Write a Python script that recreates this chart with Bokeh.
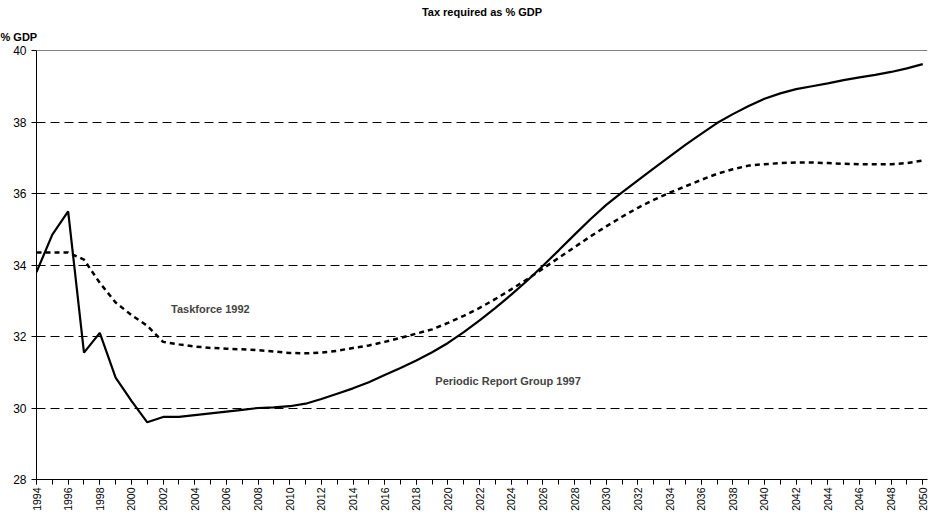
import numpy as np
from math import pi

from bokeh.plotting import figure
from bokeh.models import FixedTicker, Span, Title, Label
from bokeh.embed import file_html
from bokeh.resources import INLINE

years = list(range(1994, 2051))

prg_1997 = [33.8, 34.85, 35.5, 31.55, 32.1, 30.85, 30.2, 29.6, 29.75, 29.75,
            29.8, 29.85, 29.9, 29.95, 30.0, 30.02, 30.05, 30.12, 30.25, 30.4,
            30.55, 30.72, 30.92, 31.12, 31.33, 31.56, 31.82, 32.12, 32.45, 32.8,
            33.17, 33.56, 33.98, 34.41, 34.85, 35.28, 35.68, 36.03, 36.37, 36.7,
            37.03, 37.36, 37.67, 37.97, 38.22, 38.45, 38.65, 38.8, 38.92, 39.0,
            39.08, 39.17, 39.25, 39.32, 39.4, 39.5, 39.62]

taskforce_1992 = [34.35, 34.35, 34.35, 34.15, 33.5, 32.95, 32.6, 32.3, 31.85, 31.78,
                  31.72, 31.68, 31.66, 31.64, 31.62, 31.58, 31.54, 31.53, 31.55, 31.6,
                  31.68, 31.75, 31.85, 31.96, 32.08, 32.2, 32.38, 32.58, 32.8, 33.05,
                  33.32, 33.6, 33.9, 34.2, 34.5, 34.8, 35.08, 35.35, 35.6, 35.82,
                  36.02, 36.2, 36.38, 36.55, 36.68, 36.78, 36.82, 36.85, 36.87, 36.87,
                  36.85, 36.83, 36.82, 36.82, 36.82, 36.85, 36.92]

font = "Liberation Sans"

p = figure(width=929, height=513, x_range=(1994, 2050.3), y_range=(28, 40),
           output_backend="svg", toolbar_location=None,
           min_border_left=36, min_border_right=2, min_border_top=0,
           min_border_bottom=0)

p.title.text = "Tax required as % GDP"
p.title.align = "center"
p.title.text_font = font
p.title.text_font_size = "11px"
p.title.text_font_style = "bold"
p.title.text_color = "black"
p.title.standoff = 6
p.add_layout(Title(text="% GDP", align="left", text_font=font, text_color="black",
                   text_font_size="11px", text_font_style="bold",
                   offset=-36, standoff=16), "above")

p.outline_line_color = None
p.xgrid.grid_line_color = None
p.ygrid.grid_line_color = "#000000"
p.ygrid.grid_line_dash = "9 5"
p.ygrid.grid_line_width = 1
p.ygrid.ticker = FixedTicker(ticks=[30, 32, 34, 36, 38])
p.add_layout(Span(location=40, dimension="width", line_color="black", line_width=1))

p.xaxis.ticker = FixedTicker(ticks=list(range(1994, 2051, 2)), minor_ticks=years)
p.xaxis.major_label_orientation = pi / 2
p.xaxis.major_label_standoff = 3
p.yaxis.ticker = FixedTicker(ticks=[28, 30, 32, 34, 36, 38, 40], minor_ticks=[])
for ax in (p.xaxis, p.yaxis):
    ax.axis_line_color = "black"
    ax.major_tick_in = 0
    ax.major_tick_out = 5
    ax.minor_tick_in = 0
    ax.minor_tick_out = 5
    ax.major_label_text_font = font
    ax.major_label_text_color = "black"
p.xaxis.major_label_text_font_size = "10.5px"
p.yaxis.major_label_text_font_size = "12px"

p.line(years, prg_1997, line_color="black", line_width=2.2)
p.line(years, taskforce_1992, line_color="black", line_width=2.5, line_dash="5 4")

p.add_layout(Label(x=2002.5, y=32.6, text="Taskforce 1992", text_font=font,
                   text_font_size="11px", text_font_style="bold"))
p.add_layout(Label(x=2019.2, y=30.6, text="Periodic Report Group 1997", text_font=font,
                   text_font_size="11px", text_font_style="bold"))

open("out.html", "w").write(file_html(p, INLINE))
